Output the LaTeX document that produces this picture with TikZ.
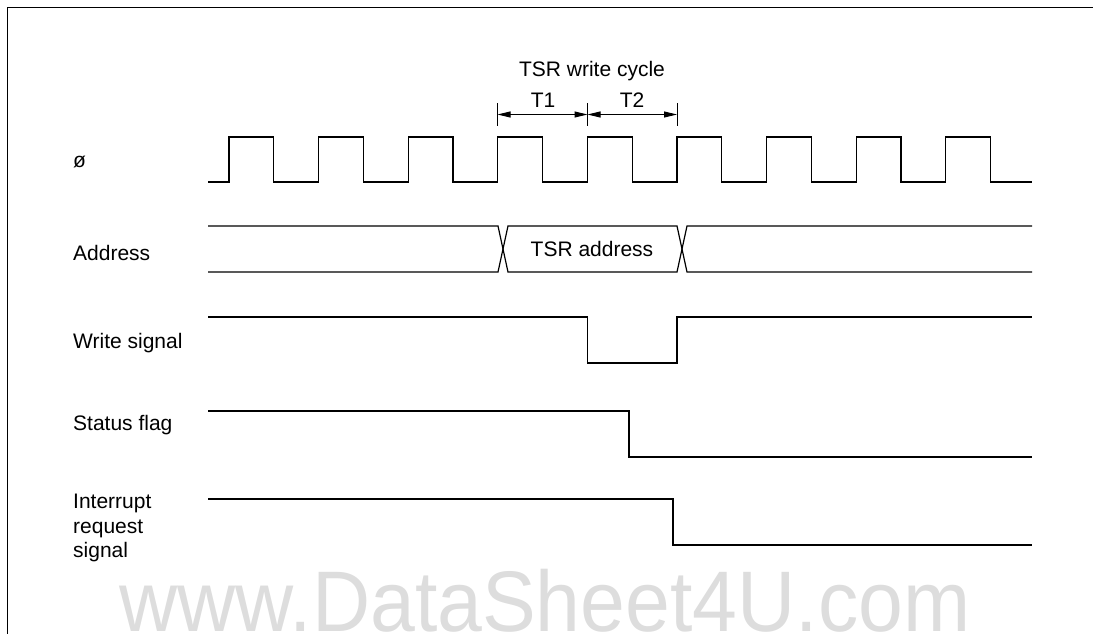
\documentclass[tikz,border=0pt]{standalone}
\usepackage{fontspec}
\setmainfont{Liberation Sans}
\usepackage{tikz}
\usetikzlibrary{calc, arrows.meta}
\definecolor{wmgray}{HTML}{DDDDDD}

\begin{document}
\begin{tikzpicture}[x=1pt,y=-1pt,
    sig/.style={line width=1.2pt,line join=miter},
    lbl/.style={anchor=base west,inner sep=0pt,font=\fontsize{21}{24.5}\selectfont},
    txt/.style={anchor=base,inner sep=0pt,font=\fontsize{21}{24.5}\selectfont},
    dim/.style={line width=1pt,{Triangle[length=13pt,width=6pt]}-{Triangle[length=13pt,width=6pt]}}]
    \useasboundingbox (0,0) rectangle (1093,634);

    % cornice
    \draw[line width=1.5pt] (1093,7.5) -- (7.5,7.5) -- (7.5,634);

    % etichette
    \node[lbl] (lphi) at (73,167) {ø};
    \node[lbl] (laddr) at (73,260) {Address};
    \node[lbl] (lwr) at (73,348) {Write signal};
    \node[lbl] (lflag) at (73,430) {Status flag};
    \node[lbl,anchor=north west,align=left] (lirq) at (73,494) {Interrupt\\request\\signal};

    % clock
    \draw[sig] (208,182) \foreach \k in {0,...,8} {
        -- ({229+89.6*\k},182) -- ++(0,-45) -- ++(44.8,0) -- ++(0,45)
    } -- (1032,182);

    % ciclo di scrittura
    \coordinate (t0) at (497.5,114.5);
    \coordinate (t1) at (587.5,114.5);
    \coordinate (t2) at (677,114.5);
    \foreach \c in {t0,t1,t2}
        \draw[line width=1pt] ($(\c)+(0,-11.5)$) -- ($(\c)+(0,11.5)$);
    \draw[dim] (t0) -- (t1);
    \draw[dim] (t1) -- (t2);
    \node[txt] (lcyc) at (592,77) {TSR write cycle};
    \node[txt] (lt1) at (543,107) {T1};
    \node[txt] (lt2) at (632,107) {T2};

    % indirizzo
    \draw[sig] (208,226) -- (498,226) -- (508,272) -- (677,272) -- (687,226) -- (1032,226);
    \draw[sig] (208,272) -- (498,272) -- (508,226) -- (677,226) -- (687,272) -- (1032,272);
    \node[txt] (ltsr) at (592,256) {TSR address};

    % scrittura
    \draw[sig] (208,317) -- (587.5,317) -- (587.5,363) -- (677,363) -- (677,317) -- (1032,317);

    % flag di stato
    \draw[sig] (208,411) -- (629,411) -- (629,457) -- (1032,457);

    % richiesta di interrupt
    \draw[sig] (208,499) -- (673,499) -- (673,545) -- (1032,545);

    % filigrana
    \node[anchor=base,inner sep=0pt,text=wmgray,xscale=0.937,
        font=\fontsize{86}{90}\selectfont] (wm) at (545,631) {www.DataSheet4U.com};
\end{tikzpicture}
\end{document}
